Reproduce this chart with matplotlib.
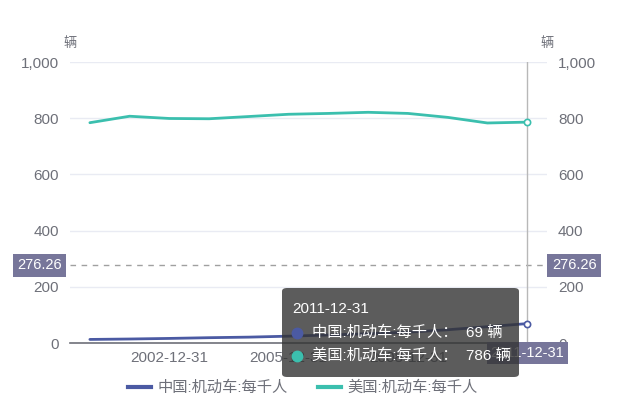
import numpy as np
import matplotlib
matplotlib.use("Agg")
import matplotlib.pyplot as plt
from matplotlib.patches import FancyBboxPatch
from matplotlib.lines import Line2D


# DATA #

dates = ['2000-12-31', '2001-12-31', '2002-12-31', '2003-12-31', '2004-12-31', '2005-12-31',
         '2006-12-31', '2007-12-31', '2008-12-31', '2009-12-31', '2010-12-31', '2011-12-31']
china = [12.7, 14.2, 16.3, 18.9, 20.9, 24.3, 28.5, 33.0, 38.4, 47.1, 58.0, 69]
usa = [784, 807, 799, 798, 806, 814, 817, 821, 817, 803, 783, 786]
names = ['中国:机动车:每千人', '美国:机动车:每千人']
unit = '辆'
yticks = [0, 200, 400, 600, 800, 1000]
ylabels = ['0', '200', '400', '600', '800', '1,000']
xtick_idx = [2, 5, 8, 11]
cursor_y = 276.26
hover_idx = 11


# STYLE #

plt.rcParams['font.family'] = ['Liberation Sans', 'Noto Sans CJK SC', 'DejaVu Sans']
c_china = '#4b5aa3'
c_usa = '#3bbfae'
c_text = '#6e7079'
c_grid = '#e9ebf3'
c_box = '#77769a'

W, H = 640, 411
fig = plt.figure(figsize=(W / 100, H / 100), dpi=100)
ax = fig.add_axes([70 / W, 1 - 343 / H, 477 / W, 281 / H])
x = np.arange(len(dates))

ax.plot(x, china, color=c_china, lw=2, solid_capstyle='round', zorder=3)
ax.plot(x, usa, color=c_usa, lw=2, solid_capstyle='round', zorder=3)
for s, c in [(china, c_china), (usa, c_usa)]:
    ax.plot(x[hover_idx], s[hover_idx], 'o', ms=4.5, mfc='white', mec=c, mew=1.2, zorder=4)

ax.set_xlim(-0.5, len(dates) - 0.5)
ax.set_ylim(0, 1000)
ax.set_yticks(yticks)
ax.set_yticklabels(ylabels)
ax.set_xticks(xtick_idx)
ax.set_xticklabels([dates[i] for i in xtick_idx])
ax.tick_params(axis='both', length=0, labelsize=11, colors=c_text)
ax.tick_params(axis='y', pad=8, labelright=True)
ax.tick_params(axis='x', pad=6)
for sp in ['top', 'left', 'right']:
    ax.spines[sp].set_visible(False)
ax.spines['bottom'].set_color('#6e7079')
ax.spines['bottom'].set_linewidth(1.2)
ax.grid(axis='y', color=c_grid, lw=1)
ax.set_axisbelow(True)

# axis names
ax.text(0, 1.065, unit, transform=ax.transAxes, ha='center', va='center', fontsize=9.5, color=c_text)
ax.text(1, 1.065, unit, transform=ax.transAxes, ha='center', va='center', fontsize=9.5, color=c_text)

# cross pointer
ax.axhline(cursor_y, color='#a0a0a0', lw=1, ls=(0, (4, 4)), zorder=2)
ax.axvline(x[hover_idx], color='#b8b8b8', lw=1, zorder=2)
lbl = '%.2f' % cursor_y
for xa, ha in [(-0.017, 'right'), (1.01, 'left')]:
    ax.text(xa, cursor_y, lbl, transform=ax.get_yaxis_transform(), ha=ha, va='center',
            fontsize=10.5, color='white', zorder=6,
            bbox=dict(boxstyle='square,pad=0.3', fc=c_box, ec='none'))
ax.text(x[hover_idx], -11, dates[hover_idx], ha='center', va='top', fontsize=10.5, color='white',
        zorder=6, clip_on=False, bbox=dict(boxstyle='square,pad=0.25', fc=c_box, ec='none'))

# tooltip
tip = FancyBboxPatch((282 / W, 1 - 377 / H), 237 / W, 89 / H, transform=fig.transFigure,
                     boxstyle='round,pad=0,rounding_size=0.008', fc=(0.2, 0.2, 0.2, 0.8),
                     ec='none', zorder=10)
fig.patches.append(tip)
fig.text(292 / W, 1 - 309 / H, dates[hover_idx], color='white', fontsize=11, va='center', zorder=11)
rows = [(names[0], china[hover_idx], c_china), (names[1], usa[hover_idx], c_usa)]
for k, (n, v, c) in enumerate(rows):
    yy = 1 - (333 + 23 * k) / H
    fig.lines.append(Line2D([297 / W], [yy], transform=fig.transFigure, marker='o', ms=7.5,
                            color=c, zorder=11))
    fig.text(312 / W, yy, '%s：  %g %s' % (n, v, unit), color='white', fontsize=11,
             va='center', zorder=11)

# legend
handles = [Line2D([], [], color=c_china, lw=3), Line2D([], [], color=c_usa, lw=3)]
fig.legend(handles, names, loc='center', bbox_to_anchor=(303 / W, 1 - 388 / H), ncol=2,
           frameon=False, fontsize=11, handlelength=1.5, handletextpad=0.4, columnspacing=2.0,
           labelcolor=c_text)

fig.savefig('out.png', dpi=100)
